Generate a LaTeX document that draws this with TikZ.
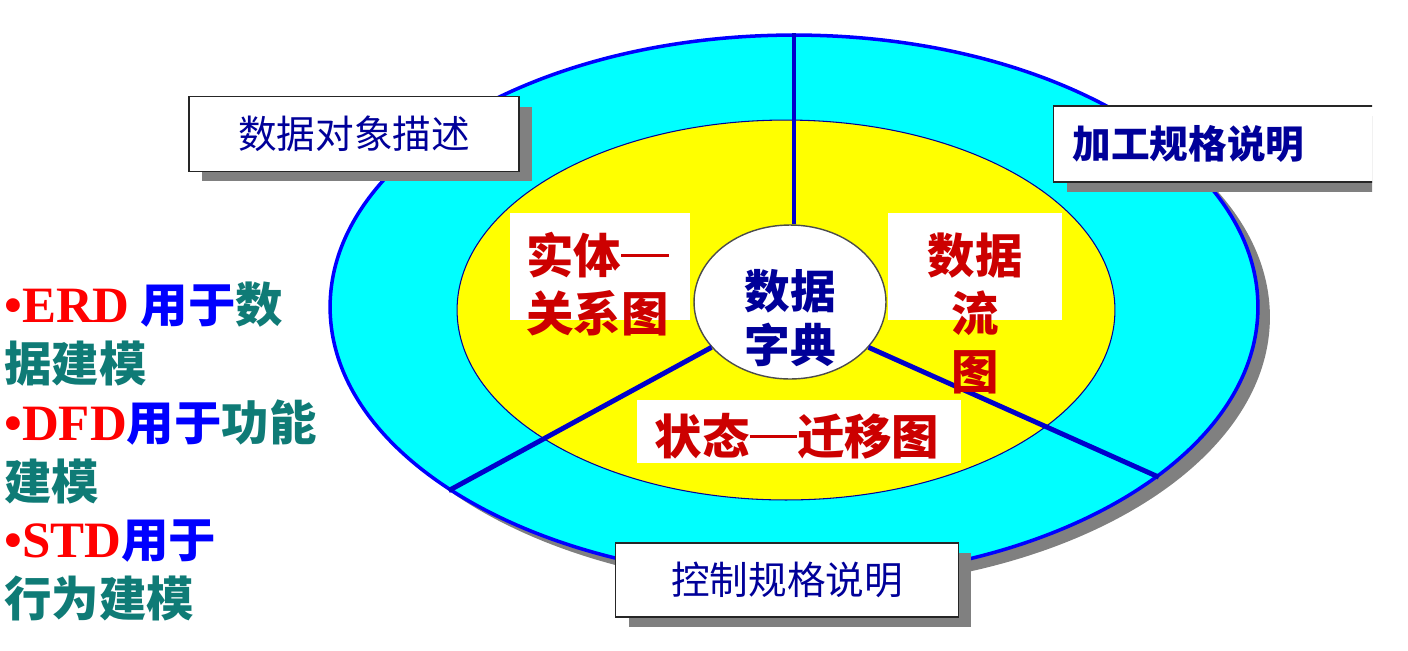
\documentclass[tikz,border=0pt]{standalone}
\usepackage{fontspec}
\usepackage{xcolor}
\usetikzlibrary{shapes.geometric,shadows}
\setmainfont{Noto Sans CJK SC}
\newfontfamily\tnr{Liberation Serif}
\definecolor{cyanring}{HTML}{00FFFF}
\definecolor{yellowring}{HTML}{FFFF00}
\definecolor{ringblue}{HTML}{0000FF}
\definecolor{spokeblue}{HTML}{0000CC}
\definecolor{navy}{HTML}{000099}
\definecolor{redtxt}{HTML}{CC0000}
\definecolor{bullred}{HTML}{FF0000}
\definecolor{useblue}{HTML}{0000FF}
\definecolor{tealtxt}{HTML}{0F7B76}
\definecolor{shade}{HTML}{808080}
\newcommand\longdash{\rule[0.34em]{1em}{0.07em}}

\begin{document}
\begin{tikzpicture}[x=0.02cm,y=-0.02cm,
 ring/.style={ellipse,inner sep=0pt},
 spoke/.style={draw=spokeblue,line width=2.8pt},
 pad/.style={rectangle,fill=white,inner sep=0pt},
 lab/.style={text=redtxt,font=\bfseries\fontsize{27}{33}\selectfont,align=left,inner sep=0pt},
 lbl/.style={rectangle,draw=black!85,line width=0.9pt,fill=white,inner sep=0pt,text=navy,
  font=\fontsize{22}{26}\selectfont,
  drop shadow={shadow xshift=0.26cm,shadow yshift=-0.2cm,fill=shade,opacity=1}}]
 \useasboundingbox (0,0) rectangle (1408,650);
 \node[ring,draw=ringblue,line width=2pt,fill=cyanring,minimum width=18.56cm,minimum height=10.88cm,
  drop shadow={shadow xshift=0.24cm,shadow yshift=-0.2cm,fill=shade,opacity=1}] (outer) at (794,307) {};
 \node[ring,draw=blue!60!black,line width=0.6pt,fill=yellowring,minimum width=13.16cm,minimum height=7.6cm] (inner) at (786,310) {};
 \node[ring,draw=black!70,line width=0.8pt,fill=white,minimum width=3.84cm,minimum height=3.08cm] (dict) at (790,302) {};
 \draw[spoke] (outer.north) -- (outer.north |- dict.north);
 \draw[spoke] (dict.210) -- (outer.208);
 \draw[spoke] (dict.-30) -- (outer.-25);
 \node[text=navy,font=\bfseries\fontsize{26}{31}\selectfont,align=center,inner sep=0pt] (dicttxt) at (790,318) {数据\\字典};

 \node[pad,minimum width=3.6cm,minimum height=2.14cm] (erpad) at (600,266) {};
 \node[lab,anchor=west] (er) at (526,284) {实体\longdash\\关系图};
 \node[pad,minimum width=3.48cm,minimum height=2.14cm] (dfpad) at (975,266) {};
 \node[lab,align=center] (df) at (975,313) {数据\\流\\图};
 \node[pad,minimum width=6.5cm,minimum height=1.26cm] (stpad) at (799,431) {};
 \node[lab] (st) at (797,436) {状态\longdash 迁移图};

 \node[lbl,minimum width=6.6cm,minimum height=1.5cm] (obj) at (354,134) {数据对象描述};
 \node[lbl,minimum width=6.86cm,minimum height=1.48cm] (ctrl) at (787,580) {控制规格说明};
 \begin{scope}
 \clip (0,0) rectangle (1372,650);
 \node[lbl,font=\bfseries\fontsize{22}{26}\selectfont,minimum width=6.62cm,minimum height=1.52cm,
  text width=5.86cm,align=left] (proc) at (1219,144) {加工规格说明};
 \end{scope}

 \node[anchor=north west,align=left,inner sep=0pt,text=tealtxt,
  font=\bfseries\fontsize{27}{33.4}\selectfont] (notes) at (4,282)
  {{\tnr\fontsize{29}{33.4}\selectfont\color{bullred}•ERD} \textcolor{useblue}{用于}数\\
   据建模\\
   {\tnr\fontsize{29}{33.4}\selectfont\color{bullred}•DFD}\textcolor{useblue}{用于}功能\\
   建模\\
   {\tnr\fontsize{29}{33.4}\selectfont\color{bullred}•STD}\textcolor{useblue}{用于}\\
   行为建模};
\end{tikzpicture}
\end{document}
